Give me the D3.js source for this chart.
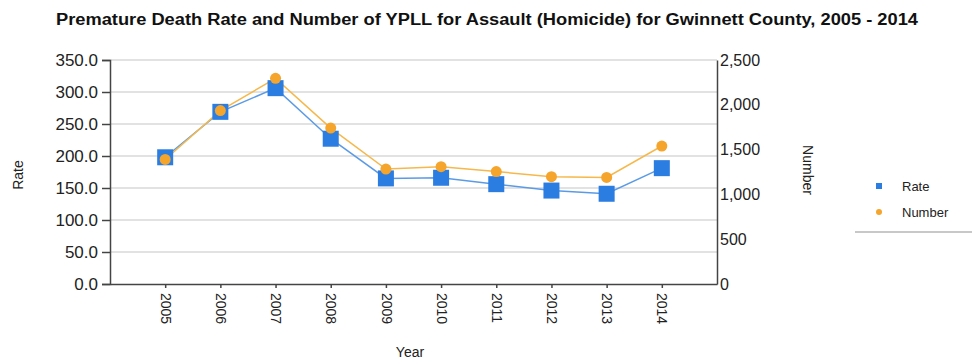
<!DOCTYPE html>
<html>
<head>
<meta charset="utf-8">
<script src="https://cdn.jsdelivr.net/npm/d3@7"></script>
<style>
  html, body { margin: 0; padding: 0; background: #fff; }
  svg { display: block; font-family: "Liberation Sans", Arial, sans-serif; }
</style>
</head>
<body>
<svg id="chart" width="972" height="360"></svg>
<script>
const years = ["2005","2006","2007","2008","2009","2010","2011","2012","2013","2014"];
const rateValues = [198, 269, 306, 227, 165, 166, 156, 146, 141, 181];
const numberValues = [1390, 1935, 2295, 1740, 1283, 1309, 1255, 1198, 1190, 1540];
const rateTicks = [0, 50, 100, 150, 200, 250, 300, 350];
const numberTicks = [0, 500, 1000, 1500, 2000, 2500];
const seriesNames = ["Rate", "Number"];
const titleText = "Premature Death Rate and Number of YPLL for Assault (Homicide) for Gwinnett County, 2005 - 2014";

const svg = d3.select("#chart");
const plotL = 110, plotR = 717, plotT = 60, plotB = 284;
const blue = "#2b7de1", orange = "#f5a42c";
const blueLine = "#5b9be6", orangeLine = "#f6b84b";

const x = d3.scalePoint().domain(years).range([plotL, plotR]).padding(1);
const yL = d3.scaleLinear().domain([0, 350]).range([plotB, plotT]);
const yR = d3.scaleLinear().domain([0, 2500]).range([plotB, plotT]);

// title
svg.append("text").attr("x", 487).attr("y", 25).attr("text-anchor", "middle")
  .attr("font-size", 16).attr("font-weight", "bold").attr("fill", "#111")
  .attr("textLength", 862).attr("lengthAdjust", "spacingAndGlyphs")
  .text(titleText);

// gridlines
svg.append("g").selectAll("line").data(rateTicks.slice(1)).join("line")
  .attr("x1", plotL).attr("x2", plotR)
  .attr("y1", d => yL(d)).attr("y2", d => yL(d))
  .attr("stroke", "#d9d9d9").attr("stroke-width", 1.5);

// left axis
const gL = svg.append("g").attr("transform", `translate(${plotL},0)`)
  .call(d3.axisLeft(yL).tickValues(rateTicks).tickFormat(d3.format(".1f")).tickSize(8).tickPadding(4));
gL.select(".domain").attr("stroke", "#444").attr("stroke-width", 1.5);
gL.selectAll(".tick line").attr("stroke", "#444").attr("stroke-width", 1.5);
gL.selectAll(".tick text").attr("font-size", 17).attr("fill", "#222")
  .attr("font-family", "'Liberation Sans', Arial, sans-serif");

// right axis
const gR = svg.append("g").attr("transform", `translate(${plotR},0)`)
  .call(d3.axisRight(yR).tickValues(numberTicks).tickFormat(d3.format(",")).tickSize(0).tickPadding(3));
gR.select(".domain").attr("stroke", "#444").attr("stroke-width", 1.5);
gR.selectAll(".tick text").attr("font-size", 16).attr("fill", "#222")
  .attr("font-family", "'Liberation Sans', Arial, sans-serif");

// bottom axis
const gB = svg.append("g").attr("transform", `translate(0,${plotB})`)
  .call(d3.axisBottom(x).tickSize(4).tickPadding(6).tickSizeOuter(0));
gB.select(".domain").attr("stroke", "#444").attr("stroke-width", 1.5);
gB.selectAll(".tick line").attr("stroke", "#444").attr("stroke-width", 1.5);
gB.selectAll(".tick text").attr("font-size", 14).attr("fill", "#222")
  .attr("font-family", "'Liberation Sans', Arial, sans-serif")
  .attr("transform", "rotate(90)").attr("text-anchor", "start")
  .attr("x", 9).attr("y", 0).attr("dy", "0.35em");

// axis titles
svg.append("text").attr("transform", "translate(23,175) rotate(-90)")
  .attr("text-anchor", "middle").attr("font-size", 14).attr("fill", "#222").text("Rate");
svg.append("text").attr("transform", "translate(803,170) rotate(90)")
  .attr("text-anchor", "middle").attr("font-size", 14).attr("fill", "#222").text("Number");
svg.append("text").attr("x", 410).attr("y", 357)
  .attr("text-anchor", "middle").attr("font-size", 14).attr("fill", "#222").text("Year");

// lines
const rateData = years.map((yr, i) => ({yr, v: rateValues[i]}));
const numData = years.map((yr, i) => ({yr, v: numberValues[i]}));
svg.append("path").datum(rateData)
  .attr("d", d3.line().x(d => x(d.yr)).y(d => yL(d.v)))
  .attr("fill", "none").attr("stroke", blueLine).attr("stroke-width", 1.5);
svg.append("path").datum(numData)
  .attr("d", d3.line().x(d => x(d.yr)).y(d => yR(d.v)))
  .attr("fill", "none").attr("stroke", orangeLine).attr("stroke-width", 1.5);

// markers
svg.append("g").selectAll("rect").data(rateData).join("rect")
  .attr("x", d => x(d.yr) - 8).attr("y", d => yL(d.v) - 8)
  .attr("width", 16).attr("height", 16).attr("fill", blue);
svg.append("g").selectAll("circle").data(numData).join("circle")
  .attr("cx", d => x(d.yr)).attr("cy", d => yR(d.v)).attr("r", 5.5)
  .attr("fill", orange);

// legend
const lg = svg.append("g");
lg.append("rect").attr("x", 876).attr("y", 183).attr("width", 6).attr("height", 6).attr("fill", blue);
lg.append("circle").attr("cx", 879).attr("cy", 212).attr("r", 3).attr("fill", orange);
lg.append("text").attr("x", 902).attr("y", 191).attr("font-size", 13).attr("fill", "#222").text(seriesNames[0]);
lg.append("text").attr("x", 902).attr("y", 217).attr("font-size", 13).attr("fill", "#222").text(seriesNames[1]);
lg.append("line").attr("x1", 855).attr("x2", 972).attr("y1", 232).attr("y2", 232)
  .attr("stroke", "#c8c8c8").attr("stroke-width", 2);
</script>
</body>
</html>
